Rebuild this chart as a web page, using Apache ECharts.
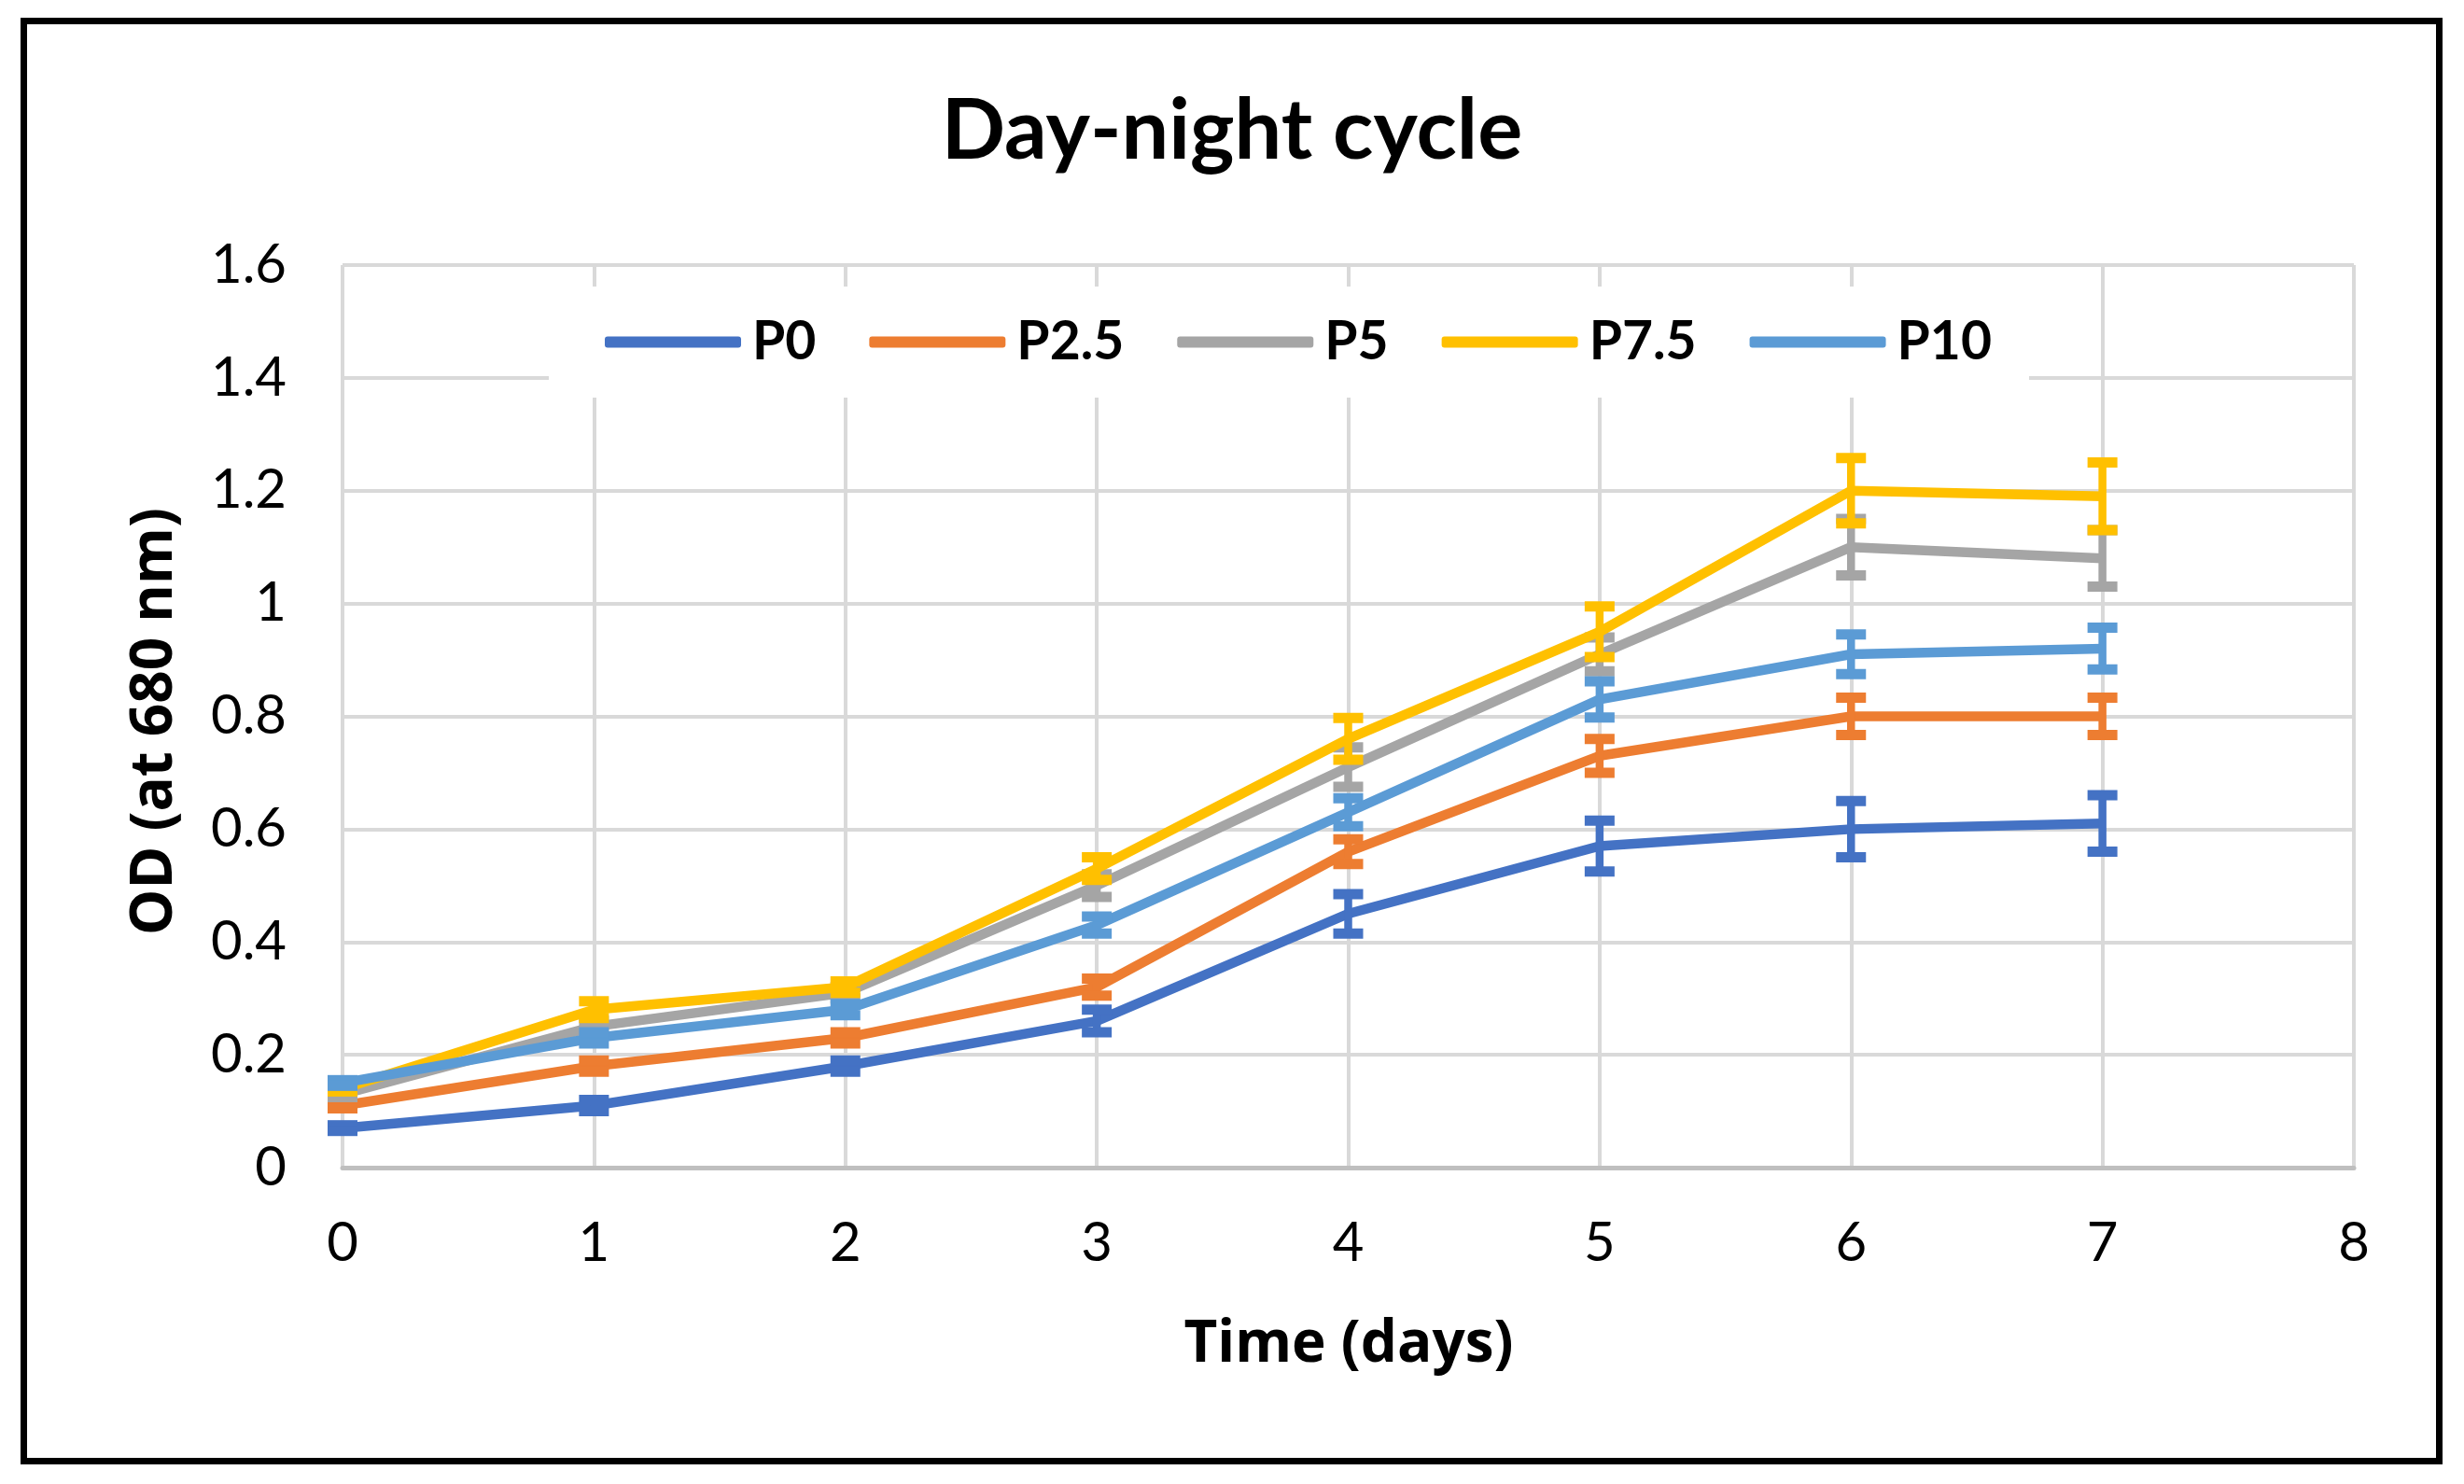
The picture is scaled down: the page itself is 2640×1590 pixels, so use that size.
<!DOCTYPE html>
<html>
<head>
<meta charset="utf-8">
<script src="https://cdn.jsdelivr.net/npm/echarts@6/dist/echarts.min.js"></script>
<style>
html,body{margin:0;padding:0;background:#fff;}
#c{width:2640px;height:1590px;}
</style>
</head>
<body>
<div id="c"></div>
<script>
// ---- data ----
const days = [0, 1, 2, 3, 4, 5, 6, 7];
const seriesNames = ['P0', 'P2.5', 'P5', 'P7.5', 'P10'];
const P0    = [0.07, 0.11, 0.18, 0.26, 0.45, 0.57, 0.60, 0.61];
const P2_5  = [0.11, 0.18, 0.23, 0.32, 0.56, 0.73, 0.80, 0.80];
const P5    = [0.13, 0.25, 0.31, 0.50, 0.71, 0.91, 1.10, 1.08];
const P7_5  = [0.14, 0.28, 0.32, 0.53, 0.76, 0.95, 1.20, 1.19];
const P10   = [0.15, 0.23, 0.28, 0.43, 0.63, 0.83, 0.91, 0.92];
const errP0   = [0.005, 0.01, 0.01, 0.02, 0.035, 0.045, 0.05, 0.05];
const errP2_5 = [0.005, 0.01, 0.01, 0.015, 0.022, 0.03, 0.033, 0.033];
const errP5   = [0.005, 0.01, 0.01, 0.02, 0.035, 0.03, 0.05, 0.05];
const errP7_5 = [0.005, 0.015, 0.01, 0.02, 0.037, 0.045, 0.058, 0.06];
const errP10  = [0.005, 0.01, 0.01, 0.015, 0.025, 0.032, 0.035, 0.037];
const yTicks = [0, 0.2, 0.4, 0.6, 0.8, 1, 1.2, 1.4, 1.6];
const xTicks = [0, 1, 2, 3, 4, 5, 6, 7, 8];

const values = [P0, P2_5, P5, P7_5, P10];
const errors = [errP0, errP2_5, errP5, errP7_5, errP10];
const colors = ['#4472C4', '#ED7D31', '#A5A5A5', '#FFC000', '#5B9BD5'];

const chart = echarts.init(document.getElementById('c'), null, {renderer: 'canvas'});

const series = [];
seriesNames.forEach((name, i) => {
  series.push({
    name: name,
    type: 'line',
    data: days.map((d, k) => [d, values[i][k]]),
    showSymbol: false,
    symbol: 'none',
    lineStyle: {color: colors[i], width: 10.5, join: 'round'},
    itemStyle: {color: colors[i]},
    z: 10 + i * 2,
    animation: false
  });
  series.push({
    name: name + ' err',
    type: 'custom',
    data: days.map((d, k) => [d, values[i][k] - errors[i][k], values[i][k] + errors[i][k]]),
    z: 11 + i * 2,
    animation: false,
    renderItem: function (params, api) {
      const x = api.value(0), lo = api.value(1), hi = api.value(2);
      const pLo = api.coord([x, lo]);
      const pHi = api.coord([x, hi]);
      const hw = 16;
      const c = colors[i];
      return {
        type: 'group',
        children: [
          {type: 'line', shape: {x1: pLo[0], y1: pLo[1], x2: pHi[0], y2: pHi[1]}, style: {stroke: c, lineWidth: 8.5}},
          {type: 'line', shape: {x1: pHi[0] - hw, y1: pHi[1], x2: pHi[0] + hw, y2: pHi[1]}, style: {stroke: c, lineWidth: 11}},
          {type: 'line', shape: {x1: pLo[0] - hw, y1: pLo[1], x2: pLo[0] + hw, y2: pLo[1]}, style: {stroke: c, lineWidth: 11}}
        ]
      };
    }
  });
});

const option = {
  backgroundColor: '#ffffff',
  animation: false,
  grid: {left: 367, top: 284, width: 2155, height: 967, containLabel: false},
  legend: {
    data: seriesNames,
    left: 588,
    top: 307,
    orient: 'horizontal',
    padding: [31, 40, 31, 60],
    backgroundColor: '#ffffff',
    itemWidth: 146,
    itemHeight: 12,
    itemGap: 57,
    icon: 'roundRect',
    textStyle: {fontFamily: 'Lato', fontWeight: 'bold', fontSize: 57, color: '#000', padding: [0, 0, 0, 7]},
    z: 5
  },
  xAxis: {
    type: 'value',
    min: xTicks[0],
    max: xTicks[xTicks.length - 1],
    interval: 1,
    axisLine: {show: true, lineStyle: {color: '#BFBFBF', width: 5}},
    axisTick: {show: false},
    axisLabel: {fontFamily: 'Lato', fontSize: 58, color: '#000', margin: 52},
    splitLine: {show: true, lineStyle: {color: '#D9D9D9', width: 4}}
  },
  yAxis: {
    type: 'value',
    min: yTicks[0],
    max: yTicks[yTicks.length - 1],
    interval: 0.2,
    axisLine: {show: false},
    axisTick: {show: false},
    axisLabel: {fontFamily: 'Lato', fontSize: 58, color: '#000', margin: 60,
      formatter: v => String(parseFloat(v.toFixed(1)))},
    splitLine: {show: true, lineStyle: {color: '#D9D9D9', width: 4}}
  },
  graphic: [
    {type: 'rect', shape: {x: 25.5, y: 22.5, width: 2588, height: 1543},
      style: {fill: 'none', stroke: '#000', lineWidth: 7}, z: 100},
    {type: 'text', x: 1320, y: 141,
      style: {text: 'Day-night cycle', fontFamily: 'Lato', fontWeight: 'bold', fontSize: 90,
        fill: '#000', align: 'center', verticalAlign: 'middle'}},
    {type: 'text', x: 1445, y: 1441,
      style: {text: 'Time (days)', fontFamily: 'Open Sans', fontWeight: 'bold', fontSize: 62,
        fill: '#000', align: 'center', verticalAlign: 'middle'}},
    {type: 'text', x: 166, y: 773, rotation: Math.PI / 2,
      style: {text: 'OD (at 680 nm)', fontFamily: 'Open Sans', fontWeight: 'bold', fontSize: 62,
        fill: '#000', align: 'center', verticalAlign: 'middle'}}
  ],
  series: series
};
chart.setOption(option);
</script>
</body>
</html>
